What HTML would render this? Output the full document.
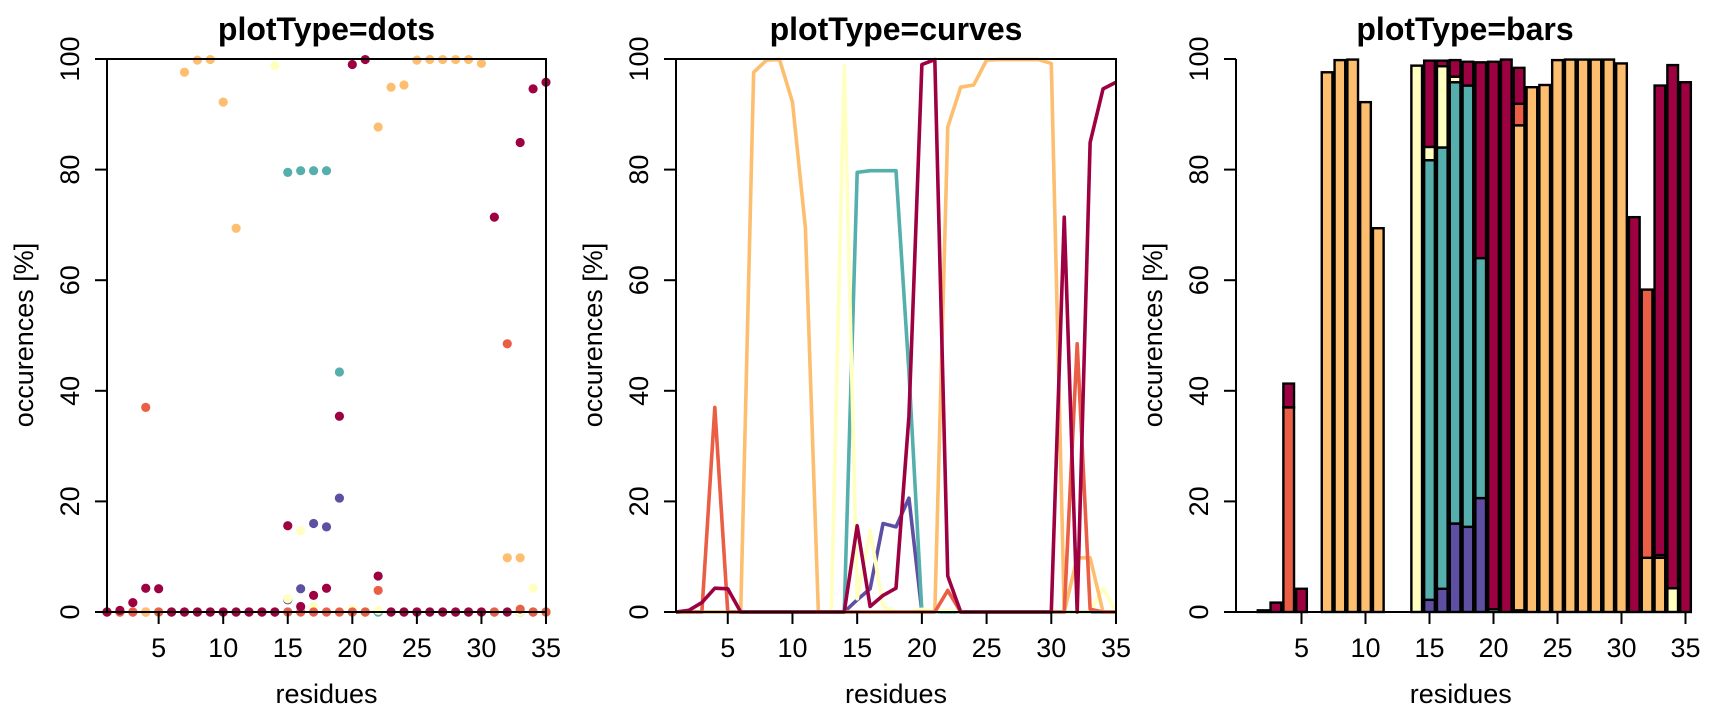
<!DOCTYPE html>
<html><head><meta charset="utf-8">
<style>
html,body{margin:0;padding:0;background:#fff;}
svg{display:block;font-family:"Liberation Sans",Arial,sans-serif;}
</style></head>
<body>
<svg id="chart" width="1710" height="720" viewBox="0 0 1710 720" xmlns="http://www.w3.org/2000/svg"></svg>
<script>
// ---- data ----
const residues = [1,2,3,4,5,6,7,8,9,10,11,12,13,14,15,16,17,18,19,20,21,22,23,24,25,26,27,28,29,30,31,32,33,34,35];
const purpleVals =  [0,0,0,0,0,0,0,0,0,0,0,0,0,0,2.2,4.2,16.0,15.4,20.6,0,0,0,0,0,0,0,0,0,0,0,0,0,0,0,0];
const tealVals =    [0,0,0,0,0,0,0,0,0,0,0,0,0,0,79.5,79.8,79.8,79.8,43.4,0,0,0,0,0,0,0,0,0,0,0,0,0,0,0,0];
const yellowVals =  [0,0,0,0,0,0,0,0,0,0,0,0,0,98.8,2.4,14.7,1.0,0,0,0.5,0,0.3,0,0,0,0,0,0,0,0,0,0,0,4.3,0];
const orangeVals =  [0,0,0,0,0,0,97.6,99.8,99.9,92.2,69.4,0,0,0,0,0,0,0,0,0,0,87.7,94.9,95.3,99.8,99.9,99.9,99.9,99.9,99.2,0,9.8,9.8,0,0];
const redOrangeVals=[0,0,0,37.0,0,0,0,0,0,0,0,0,0,0,0,0,0,0,0,0,0,3.9,0,0,0,0,0,0,0,0,0,48.5,0.5,0,0];
const darkRedVals = [0,0.3,1.7,4.3,4.2,0,0,0,0,0,0,0,0,0,15.6,1.0,3.0,4.3,35.4,99.0,99.9,6.5,0,0,0,0,0,0,0,0,71.4,0,84.9,94.6,95.8];
const seriesNames = ["purple","teal","yellow","orange","red-orange","dark-red"];
const seriesColors = ["#5E4FA2","#55AFAD","#FFFFBF","#FDBE6F","#EA5E45","#9E0142"];
const yTicks = [0,20,40,60,80,100];
const xTicks = [5,10,15,20,25,30,35];
const titles = ["plotType=dots","plotType=curves","plotType=bars"];
const series = [purpleVals,tealVals,yellowVals,orangeVals,redOrangeVals,darkRedVals];

const NS = "http://www.w3.org/2000/svg";
const svg = document.getElementById("chart");
function mk(tag, attrs, parent){
  const e = document.createElementNS(NS, tag);
  for (const k in attrs) e.setAttribute(k, attrs[k]);
  (parent||svg).appendChild(e);
  return e;
}
const Y0 = 612, Y100 = 59;
function yS(v){ return Y0 - (v/100)*(Y0-Y100); }

function axes(g, left, right, xScale, boxed, panelName, titleText, xLineL, xLineR){
  const t = mk("text",{x:(left+right)/2,y:40,"text-anchor":"middle","font-size":"32","font-weight":"bold"},g);
  t.textContent = titleText;
  
  
  if (boxed){
    const b = mk("rect",{x:left,y:Y100,width:right-left,height:Y0-Y100,fill:"none",stroke:"#000","stroke-width":2},g);
    
    
  }
  const ya = mk("g",{},g);
  
  
  mk("line",{x1:left,x2:left,y1:Y100,y2:Y0,stroke:"#000","stroke-width":2},ya);
  yTicks.forEach(v=>{
    const y = yS(v);
    mk("line",{x1:left-12,x2:left,y1:y,y2:y,stroke:"#000","stroke-width":2},ya);
    const lx = left-38;
    const tl = mk("text",{x:lx,y:y,"text-anchor":"middle","font-size":"27",transform:`rotate(-90 ${lx} ${y})`,dy:"10"},ya);
    tl.textContent = v;
    
    
  });
  const yl = mk("text",{x:left-83,y:335,"text-anchor":"middle","font-size":"27",dy:"9",transform:`rotate(-90 ${left-83} 335)`},ya);
  yl.textContent = "occurences [%]";
  
  
  const xa = mk("g",{},g);
  
  
  mk("line",{x1:xLineL,x2:xLineR,y1:Y0,y2:Y0,stroke:"#000","stroke-width":2},xa);
  xTicks.forEach(v=>{
    const x = xScale(v);
    mk("line",{x1:x,x2:x,y1:Y0,y2:Y0+12,stroke:"#000","stroke-width":2},xa);
    const tl = mk("text",{x:x,y:657,"text-anchor":"middle","font-size":"27"},xa);
    tl.textContent = v;
    
    
  });
  const xl = mk("text",{x:(xLineL+xLineR)/2,y:703,"text-anchor":"middle","font-size":"27"},xa);
  xl.textContent = "residues";
  
  
}

// ---- panel 1: dots ----
(function(){
  const L=107, R=546;
  const xS = r => L + (r-1)*(R-L)/34;
  const g = mk("g",{});
  
  
  series.forEach((vals,si)=>{
    const sg = mk("g",{},g);
    
    
    vals.forEach((v,i)=>{
      const c = mk("circle",{cx:xS(residues[i]),cy:yS(v),r:4.6,fill:seriesColors[si]},sg);
      
      
    });
  });
  axes(g,L,R,xS,true,"dots",titles[0],L,R);
})();

// ---- panel 2: curves ----
(function(){
  const L=676, R=1116;
  const xS = r => L + (r-1)*(R-L)/34;
  const g = mk("g",{});
  
  
  series.forEach((vals,si)=>{
    const pts = vals.map((v,i)=>xS(residues[i]).toFixed(2)+","+yS(v).toFixed(2)).join(" ");
    const pl = mk("polyline",{points:pts,fill:"none",stroke:seriesColors[si],"stroke-width":3.6,"stroke-linejoin":"round"},g);
    
    
  });
  axes(g,L,R,xS,true,"curves",titles[1],L,R);
})();

// ---- panel 3: bars ----
(function(){
  const L=1236, R=1694;
  const step = 12.8, bw = step/1.2, c1 = 1250.3;
  const xS = r => c1 + (r-1)*step;
  const g = mk("g",{});
  
  
  residues.forEach((r,i)=>{
    let cum = 0;
    series.forEach((vals,si)=>{
      const v = vals[i];
      if (v<=0) return;
      const y1 = yS(cum+v), y0 = yS(cum);
      const rc = mk("rect",{x:xS(r)-bw/2,y:y1,width:bw,height:y0-y1,fill:seriesColors[si],stroke:"#000","stroke-width":2.4},g);
      
      
      cum += v;
    });
  });
  axes(g,L,R,xS,false,"bars",titles[2],L,xS(35));
})();
</script>
</body></html>
